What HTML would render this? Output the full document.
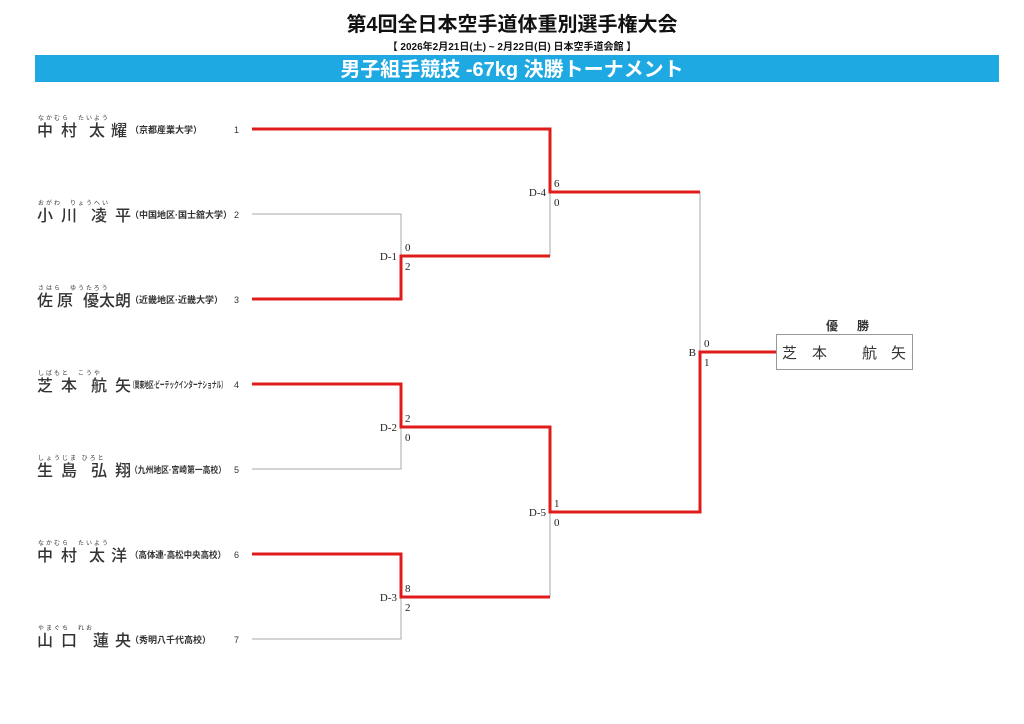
<!DOCTYPE html>
<html><head><meta charset="utf-8"><style>
body{margin:0;background:#fff;}
svg{display:block;font-family:"Liberation Sans","Noto Sans CJK JP",sans-serif;}
.n{font-size:16px;fill:#333;font-weight:500}
.f{font-size:6px;fill:#333;letter-spacing:2px}
.a{font-size:9px;fill:#333;font-weight:bold}
.num{font-size:9px;fill:#333}
.s{font-size:11px;fill:#222;font-family:"Liberation Serif","Noto Serif CJK SC",serif}
.r{stroke:#e01b1b;stroke-width:3;fill:none}
.g{stroke:#aaa;stroke-width:1;fill:none}
</style></head><body>
<svg width="1024" height="724" viewBox="0 0 1024 724">
<text x="512" y="31" text-anchor="middle" font-size="20" font-weight="bold" fill="#111">第4回全日本空手道体重別選手権大会</text>
<text x="512" y="50" text-anchor="middle" font-size="10" font-weight="bold" fill="#111">【 2026年2月21日(土) ~ 2月22日(日)  日本空手道会館 】</text>
<rect x="35" y="55" width="964" height="27" fill="#1ea9e2"/>
<text x="512" y="76" text-anchor="middle" font-size="20" font-weight="bold" fill="#fff">男子組手競技 -67kg 決勝トーナメント</text>

<g id="names">
<g transform="translate(0,129)"><text class="f" x="38" y="-9">なかむら　たいよう</text><text class="n" x="37" y="7">中</text><text class="n" x="61" y="7">村</text><text class="n" x="89" y="7">太</text><text class="n" x="111" y="7">耀</text><text class="a" x="130" y="4">（京都産業大学）</text><text class="num" x="234" y="4">1</text></g>
<g transform="translate(0,214)"><text class="f" x="38" y="-9">おがわ　りょうへい</text><text class="n" x="37" y="7">小</text><text class="n" x="61" y="7">川</text><text class="n" x="91" y="7">凌</text><text class="n" x="115" y="7">平</text><text class="a" x="130" y="4">（中国地区·国士舘大学）</text><text class="num" x="234" y="4">2</text></g>
<g transform="translate(0,299)"><text class="f" x="38" y="-9">さはら　ゆうたろう</text><text class="n" x="37" y="7">佐</text><text class="n" x="57" y="7">原</text><text class="n" x="83" y="7">優</text><text class="n" x="99" y="7">太</text><text class="n" x="115" y="7">朗</text><text class="a" x="130" y="4">（近畿地区·近畿大学）</text><text class="num" x="234" y="4">3</text></g>
<g transform="translate(0,384)"><text class="f" x="38" y="-9">しばもと　こうや</text><text class="n" x="37" y="7">芝</text><text class="n" x="61" y="7">本</text><text class="n" x="91" y="7">航</text><text class="n" x="115" y="7">矢</text><text class="a" x="130" y="4" textLength="96" lengthAdjust="spacingAndGlyphs">（関東地区·ビーテックインターナショナル）</text><text class="num" x="234" y="4">4</text></g>
<g transform="translate(0,469)"><text class="f" x="38" y="-9">しょうじま ひろと</text><text class="n" x="37" y="7">生</text><text class="n" x="61" y="7">島</text><text class="n" x="91" y="7">弘</text><text class="n" x="115" y="7">翔</text><text class="a" x="130" y="4" textLength="96" lengthAdjust="spacingAndGlyphs">（九州地区·宮崎第一高校）</text><text class="num" x="234" y="4">5</text></g>
<g transform="translate(0,554)"><text class="f" x="38" y="-9">なかむら　たいよう</text><text class="n" x="37" y="7">中</text><text class="n" x="61" y="7">村</text><text class="n" x="89" y="7">太</text><text class="n" x="111" y="7">洋</text><text class="a" x="130" y="4" textLength="96" lengthAdjust="spacingAndGlyphs">（高体連·高松中央高校）</text><text class="num" x="234" y="4">6</text></g>
<g transform="translate(0,639)"><text class="f" x="38" y="-9">やまぐち　れお</text><text class="n" x="37" y="7">山</text><text class="n" x="61" y="7">口</text><text class="n" x="93" y="7">蓮</text><text class="n" x="115" y="7">央</text><text class="a" x="130" y="4">（秀明八千代高校）</text><text class="num" x="234" y="4">7</text></g>
</g>

<polyline class="g" points="252,214 401,214 401,256"/>
<polyline class="g" points="550,256 550,192"/>
<polyline class="g" points="252,469 401,469 401,427"/>
<polyline class="g" points="252,639 401,639 401,597"/>
<polyline class="g" points="550,597 550,512"/>
<polyline class="g" points="700,192 700,352"/>
<polyline class="r" points="252,129 550,129 550,192 700,192"/>
<polyline class="r" points="252,299 401,299 401,256 550,256"/>
<polyline class="r" points="252,384 401,384 401,427 550,427 550,512 700,512 700,352 776,352"/>
<polyline class="r" points="252,554 401,554 401,597 550,597"/>

<text class="s" x="397" y="260" text-anchor="end">D-1</text><text class="s" x="405" y="251">0</text><text class="s" x="405" y="270">2</text>
<text class="s" x="546" y="196" text-anchor="end">D-4</text><text class="s" x="554" y="187">6</text><text class="s" x="554" y="206">0</text>
<text class="s" x="397" y="431" text-anchor="end">D-2</text><text class="s" x="405" y="422">2</text><text class="s" x="405" y="441">0</text>
<text class="s" x="397" y="601" text-anchor="end">D-3</text><text class="s" x="405" y="592">8</text><text class="s" x="405" y="611">2</text>
<text class="s" x="546" y="516" text-anchor="end">D-5</text><text class="s" x="554" y="507">1</text><text class="s" x="554" y="526">0</text>
<text class="s" x="696" y="356" text-anchor="end">B</text><text class="s" x="704" y="347">0</text><text class="s" x="704" y="366">1</text>

<text x="826" y="330" font-size="12" font-weight="bold" fill="#333">優</text><text x="857" y="330" font-size="12" font-weight="bold" fill="#333">勝</text>
<rect x="776.5" y="334.5" width="136" height="35" fill="#fff" stroke="#999"/>
<text class="n" x="782" y="358" style="font-weight:normal;font-size:15px">芝</text><text class="n" x="812" y="358" style="font-weight:normal;font-size:15px">本</text><text class="n" x="862" y="358" style="font-weight:normal;font-size:15px">航</text><text class="n" x="891" y="358" style="font-weight:normal;font-size:15px">矢</text>
</svg>
</body></html>
